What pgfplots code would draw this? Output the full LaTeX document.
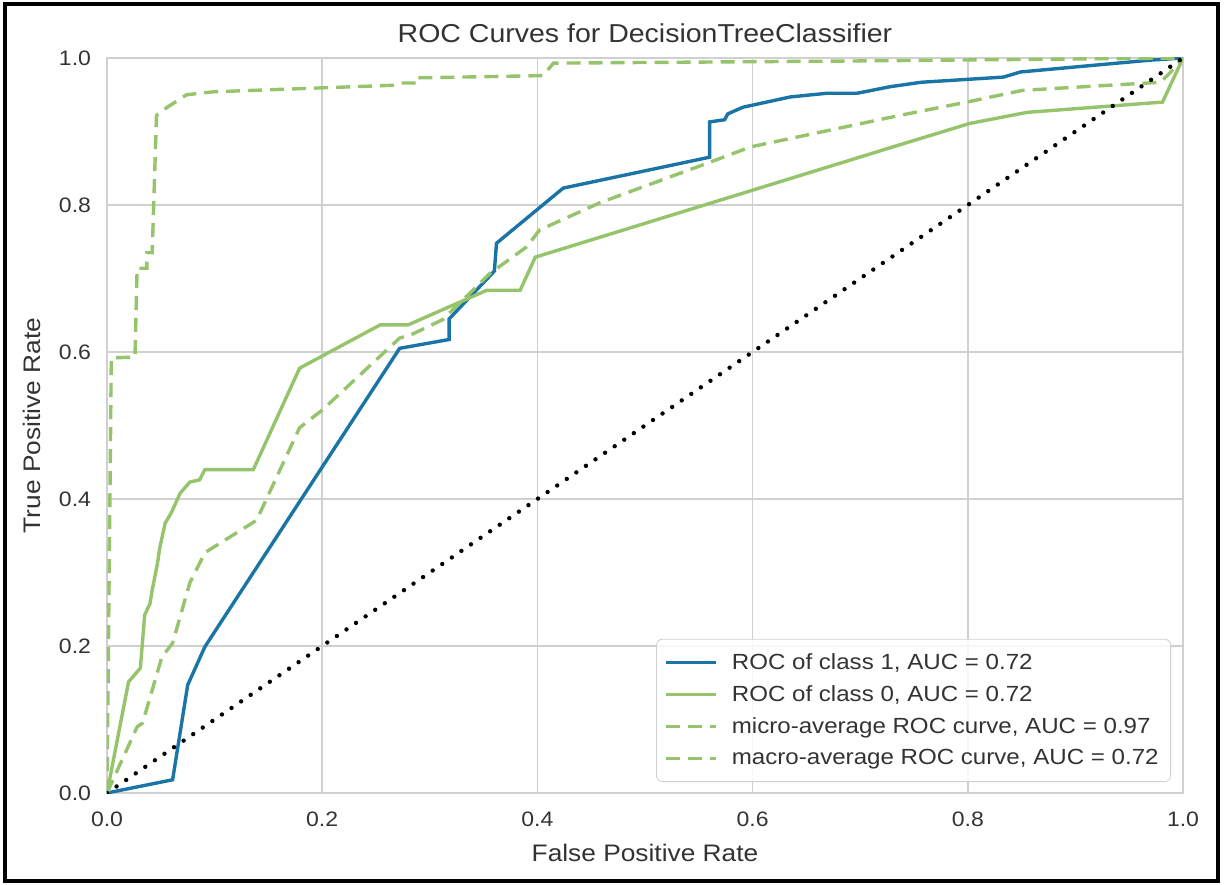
\documentclass[border=0pt]{standalone}
\usepackage{fontspec}
\setmainfont{Liberation Sans}[FakeStretch=1.1]
\usepackage{pgfplots}
\pgfplotsset{compat=1.18}
\definecolor{rocblue}{HTML}{1A75A6}
\definecolor{rocgreen}{HTML}{96C46C}
\definecolor{txt}{HTML}{333333}
\definecolor{gridc}{HTML}{D0D0D0}
\begin{document}
\begin{tikzpicture}
\useasboundingbox (-53.5bp,-46bp) rectangle (558.5bp,396.5bp);
\draw[black,line width=1.6bp] (-51bp,-44bp) rectangle (555.5bp,394.5bp);
\begin{axis}[
  at={(0,0)}, anchor=south west,
  scale only axis, width=538bp, height=367.5bp,
  xmin=0, xmax=1, ymin=0, ymax=1,
  xtick={0,0.2,...,1.0}, ytick={0,0.2,...,1.0},
  /pgf/number format/assume math mode=true,
  /pgf/number format/fixed, /pgf/number format/fixed zerofill,
  /pgf/number format/precision=1,
  tick style={draw=none},
  grid=major, grid style={gridc, line width=0.8bp},
  axis line style={gridc, line width=0.8bp},
  ticklabel style={font=\fontsize{10.5}{12}\selectfont, text=txt},
  xticklabel style={yshift=-6bp},
  yticklabel style={xshift=-4.5bp},
  xlabel={False Positive Rate}, ylabel={True Positive Rate},
  label style={font=\fontsize{12}{14}\selectfont, text=txt},
  xlabel style={yshift=-2bp},
  ylabel style={yshift=2.5bp},
  title={ROC Curves for DecisionTreeClassifier},
  title style={font=\fontsize{13}{15}\selectfont, text=txt, yshift=-2bp},
  legend style={at={(rel axis cs:1,0)}, anchor=south east, xshift=-6bp, yshift=5.5bp,
    draw=gridc, rounded corners=3bp, fill=white, fill opacity=0.85, text opacity=1,
    font=\fontsize{11}{13}\selectfont, text=txt, row sep=2.6bp, inner xsep=4bp, inner ysep=5bp},
  legend cell align=left,
  legend image code/.code={\draw[#1] (0bp,0bp) -- (25bp,0bp); \path (30bp,0bp);},
]
\addplot[rocblue, line width=1.7bp] coordinates {
(0,0) (0.061,0.018) (0.075,0.147) (0.091,0.199) (0.272,0.605) (0.318,0.617) (0.318,0.645)
(0.360,0.710) (0.362,0.748) (0.424,0.823) (0.560,0.865) (0.560,0.913) (0.574,0.916)
(0.577,0.924) (0.591,0.933) (0.635,0.947) (0.669,0.952) (0.697,0.952) (0.728,0.961)
(0.757,0.967) (0.833,0.974) (0.849,0.981) (0.969,0.997) (1,1)};
\addlegendentry{ROC of class 1, AUC = 0.72}
\addplot[rocgreen, line width=1.7bp] coordinates {
(0,0) (0.020,0.151) (0.031,0.170) (0.035,0.242) (0.040,0.258) (0.042,0.276) (0.047,0.313)
(0.049,0.333) (0.054,0.367) (0.060,0.382) (0.068,0.408) (0.077,0.423) (0.086,0.426)
(0.091,0.440) (0.136,0.440) (0.179,0.578) (0.254,0.637) (0.280,0.637) (0.353,0.684)
(0.384,0.684) (0.398,0.729) (0.737,0.882) (0.802,0.911) (0.855,0.926) (0.981,0.940) (1,1)};
\addlegendentry{ROC of class 0, AUC = 0.72}
\addplot[rocgreen, line width=1.7bp, dash pattern=on 7bp off 4bp] coordinates {
(0,0) (0.004,0.592) (0.026,0.593) (0.028,0.714) (0.037,0.714) (0.037,0.735) (0.042,0.735)
(0.046,0.922) (0.056,0.933) (0.074,0.950) (0.099,0.954) (0.268,0.963) (0.272,0.966)
(0.288,0.966) (0.288,0.973) (0.405,0.976) (0.415,0.993) (0.7,0.996) (1,1)};
\addlegendentry{micro-average ROC curve, AUC = 0.97}
\addplot[rocgreen, line width=1.7bp, dash pattern=on 7bp off 4bp] coordinates {
(0,0) (0.028,0.090) (0.033,0.095) (0.051,0.185) (0.061,0.204) (0.077,0.286) (0.091,0.327)
(0.139,0.371) (0.179,0.497) (0.200,0.521) (0.272,0.619) (0.282,0.623) (0.312,0.644)
(0.356,0.707) (0.390,0.743) (0.402,0.766) (0.458,0.803) (0.560,0.858) (0.598,0.879)
(0.737,0.922) (0.799,0.940) (0.851,0.956) (0.979,0.967) (0.988,0.980) (1,1)};
\addlegendentry{macro-average ROC curve, AUC = 0.72}
\addplot[black, line width=2.2bp, dash pattern=on 0pt off 5.8bp, line cap=round, forget plot] coordinates {(0,0) (1,1)};
\end{axis}
\end{tikzpicture}
\end{document}
